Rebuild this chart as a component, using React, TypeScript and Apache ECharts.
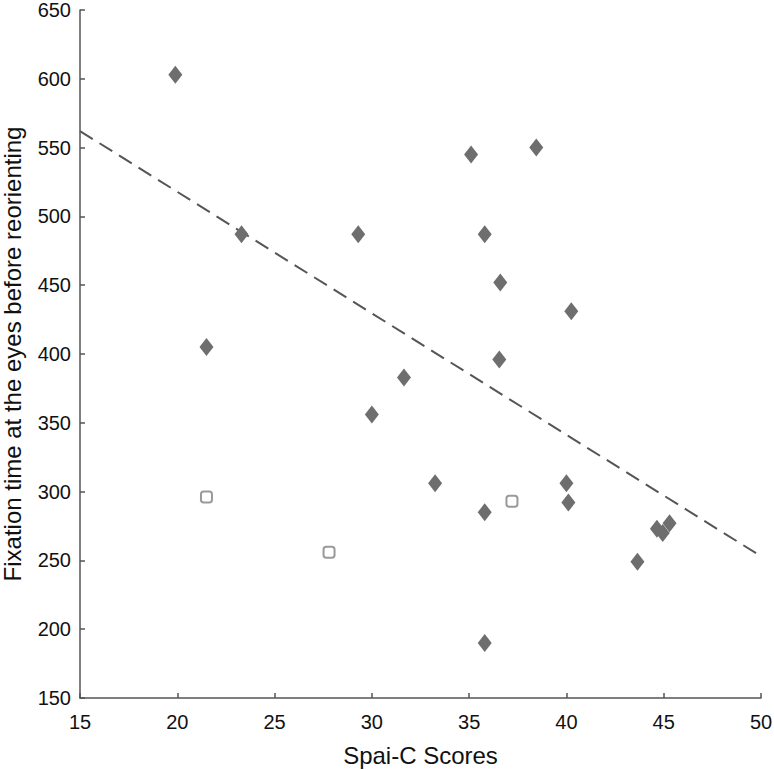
import React, { useEffect, useRef } from "react";
import * as echarts from "echarts";

const diamondX = [19.9, 23.3, 21.5, 29.3, 30.0, 31.65, 33.25, 35.1, 35.8, 35.8, 35.8, 36.6, 36.55, 38.45, 40.0, 40.1, 40.25, 43.65, 44.65, 44.95, 45.3];
const diamondY = [603, 487, 405, 487, 356, 383, 306, 545, 487, 285, 190, 452, 396, 550, 306, 292, 431, 249, 273, 270, 277];
const squareX = [21.5, 27.8, 37.2];
const squareY = [296, 256, 293];
const fitX = [15, 50];
const fitY = [562, 253];
const xTicks = [15, 20, 25, 30, 35, 40, 45, 50];
const yTicks = [150, 200, 250, 300, 350, 400, 450, 500, 550, 600, 650];

const FONT = "'Liberation Sans', Arial, sans-serif";

export default function App() {
  const ref = useRef<HTMLDivElement>(null);
  useEffect(() => {
    if (!ref.current) return;
    const chart = echarts.init(ref.current, null, { renderer: "svg" });
    const axisCommon = {
      axisLine: { show: true, lineStyle: { color: "#555", width: 1.5 } },
      axisTick: { show: true, inside: true, length: 5, lineStyle: { color: "#555", width: 1.5 } },
      splitLine: { show: false },
      nameLocation: "middle" as const,
    };
    chart.setOption({
      animation: false,
      backgroundColor: "#fff",
      grid: { left: 80, right: 13, top: 10, bottom: 72, containLabel: false, outerBoundsMode: "none" },
      xAxis: {
        ...axisCommon,
        type: "value",
        min: xTicks[0],
        max: xTicks[xTicks.length - 1],
        interval: 5,
        name: "Spai-C Scores",
        nameGap: 45,
        nameTextStyle: { fontFamily: FONT, fontSize: 24, color: "#111" },
        axisLabel: { fontFamily: FONT, fontSize: 20, color: "#111", margin: 14 },
      },
      yAxis: {
        ...axisCommon,
        type: "value",
        min: yTicks[0],
        max: yTicks[yTicks.length - 1],
        interval: 50,
        name: "Fixation time at the eyes before reorienting",
        nameGap: 56,
        nameTextStyle: { fontFamily: FONT, fontSize: 24, color: "#111" },
        axisLabel: { fontFamily: FONT, fontSize: 20, lineHeight: 20, color: "#111", margin: 9 },
      },
      series: [
        {
          type: "line",
          data: fitX.map((x, i) => [x, fitY[i]]),
          symbol: "none",
          lineStyle: { color: "#555", width: 2, type: [15, 8] },
          z: 1,
        },
        {
          type: "scatter",
          data: diamondX.map((x, i) => [x, diamondY[i]]),
          symbol: "diamond",
          symbolSize: [14, 18],
          itemStyle: { color: "#6e6e6e", opacity: 1 },
          z: 3,
        },
        {
          type: "scatter",
          data: squareX.map((x, i) => [x, squareY[i]]),
          symbol: "roundRect",
          symbolSize: 11,
          itemStyle: { color: "#fff", borderColor: "#9a9a9a", borderWidth: 2, opacity: 1 },
          z: 3,
        },
      ],
    });
    return () => chart.dispose();
  }, []);
  return <div ref={ref} style={{ width: 774, height: 770, position: "absolute", left: 0, top: 0 }} />;
}
